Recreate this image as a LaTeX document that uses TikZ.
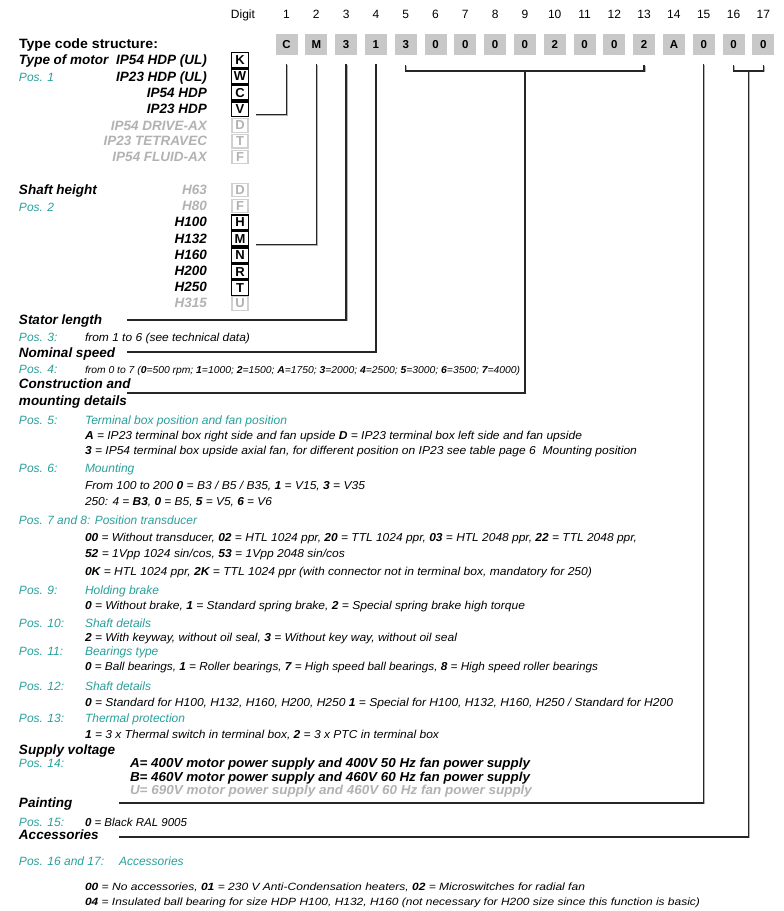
\documentclass[tikz,border=0pt]{standalone}
\usepackage{fontspec}
\setmainfont{Liberation Sans}
\usepackage{graphicx}
\usetikzlibrary{calc}
\definecolor{posteal}{RGB}{42,160,155}
\definecolor{codegray}{RGB}{200,200,200}
\definecolor{txtgray}{RGB}{178,178,178}
\definecolor{boxgray}{RGB}{208,208,208}
\newlength\fitlen
\newcommand\fitw[2]{\settowidth\fitlen{#2}\scalebox{\fpeval{#1pt/\fitlen}}[1]{#2}}
\begin{document}
\begin{tikzpicture}[x=1pt,y=-1pt,
  every node/.style={inner sep=0pt,outer sep=0pt},
  hd/.style={anchor=base west,font=\fontsize{13.5}{15}\selectfont\bfseries\itshape},
  mot/.style={anchor=base east,font=\fontsize{13.5}{15}\selectfont\bfseries\itshape},
  motg/.style={mot,text=txtgray},
  poslbl/.style={anchor=base west,text=posteal,font=\fontsize{12}{14}\selectfont\itshape},
  desc/.style={anchor=base west,font=\fontsize{11.5}{13}\selectfont\itshape},
  descs/.style={anchor=base west,font=\fontsize{10.5}{12}\selectfont\itshape},
  supp/.style={anchor=base west,font=\fontsize{13}{15}\selectfont\bfseries\itshape},
  dig/.style={anchor=base,font=\fontsize{12}{14}\selectfont},
  code/.style={fill=codegray,minimum width=22pt,minimum height=21pt,font=\fontsize{11.5}{13}\selectfont\bfseries},
  lb/.style={draw=black,line width=1.6pt,minimum width=17pt,minimum height=14.7pt,font=\fontsize{13}{14}\selectfont\bfseries},
  lbg/.style={draw=boxgray,line width=1.4pt,text=txtgray,minimum width=16pt,minimum height=13.5pt,font=\fontsize{13}{14}\selectfont\bfseries},
  conn/.style={line width=1.3pt,draw=black!85,preaction={draw=black!30,line width=1.3pt,transform canvas={xshift=0.8pt,yshift=-0.8pt}}}
]
\useasboundingbox[fill=white] (0,0) rectangle (784,911);

% header
\node[dig] (digit) at (243,18.3) {Digit};
\foreach \i/\v in {1/C,2/M,3/3,4/1,5/3,6/0,7/0,8/0,9/0,10/2,11/0,12/0,13/2,14/A,15/0,16/0,17/0}{
  \node[code] (c\i) at ({286.5+(\i-1)*29.8},44.5) {\v};
  \node[dig] (d\i) at ({286.5+(\i-1)*29.8},18.3) {\i};
}

% type of motor
\node[anchor=base west,font=\fontsize{13.5}{15}\selectfont\bfseries] (tcs) at (19,48.7) {\fitw{139}{Type code structure:}};
\node[hd] (tom) at (19,64.7) {Type of motor};
\node[poslbl] (p1) at (19,81.3) {Pos. 1};
\node[mot] (m1) at (207,64.7) {IP54 HDP (UL)};
\node[mot] (m2) at (207,81.2) {IP23 HDP (UL)};
\node[mot] (m3) at (207,97.7) {IP54 HDP};
\node[mot] (m4) at (207,113.7) {IP23 HDP};
\node[motg] (m5) at (207,130.2) {IP54 DRIVE-AX};
\node[motg] (m6) at (207,145.7) {IP23 TETRAVEC};
\node[motg] (m7) at (207,161.7) {IP54 FLUID-AX};
\node[lb] (kK) at (240,60) {K};
\node[lb] (kW) at (240,76.4) {W};
\node[lb] (kC) at (240,92.8) {C};
\node[lb] (kV) at (240,109.2) {V};
\node[lbg] (kD) at (240,125.5) {D};
\node[lbg] (kT) at (240,141.2) {T};
\node[lbg] (kF) at (240,157) {F};

% shaft height
\node[hd] (sh) at (19,194.7) {Shaft height};
\node[poslbl] (p2) at (19,211.3) {Pos. 2};
\node[motg] (h1) at (207,194.7) {H63};
\node[motg] (h2) at (207,210.7) {H80};
\node[mot] (h3) at (207,226.7) {H100};
\node[mot] (h4) at (207,243.2) {H132};
\node[mot] (h5) at (207,259.5) {H160};
\node[mot] (h6) at (207,275.7) {H200};
\node[mot] (h7) at (207,291.9) {H250};
\node[motg] (h8) at (207,307.7) {H315};
\node[lbg] (sD) at (240,190) {D};
\node[lbg] (sF) at (240,206) {F};
\node[lb] (sH) at (240,222.4) {H};
\node[lb] (sM) at (240,238.8) {M};
\node[lb] (sN) at (240,255.2) {N};
\node[lb] (sR) at (240,271.6) {R};
\node[lb] (sT) at (240,288) {T};
\node[lbg] (sU) at (240,303.5) {U};

% stator, speed
\node[hd] (stl) at (19,324.7) {Stator length};
\node[poslbl] (p3) at (19,341.3) {Pos. 3:};
\node[desc] (t3) at (85,341) {\fitw{165}{from 1 to 6 (see technical data)}};
\node[hd] (nsp) at (19,357.7) {Nominal speed};
\node[poslbl] (p4) at (19,373.3) {Pos. 4:};
\node[desc,font=\fontsize{10}{12}\selectfont\itshape] (t4) at (85,373) {\fitw{435}{from 0 to 7 (\textbf{0}=500 rpm; \textbf{1}=1000; \textbf{2}=1500; \textbf{A}=1750; \textbf{3}=2000; \textbf{4}=2500; \textbf{5}=3000; \textbf{6}=3500; \textbf{7}=4000)}};
\node[hd] (cons) at (19,388.7) {Construction and};
\node[hd] (mnt) at (19,405.7) {mounting details};

% pos 5
\node[poslbl] (p5) at (19,424.3) {Pos. 5:};
\node[poslbl] (p5t) at (85,424.3) {\fitw{202}{Terminal box position and fan position}};
\node[desc,font=\fontsize{11.5}{13}\selectfont\itshape] (t5a) at (85,439) {\fitw{497}{\textbf{A} = IP23 terminal box right side and fan upside \textbf{D} = IP23 terminal box left side and fan upside}};
\node[desc,font=\fontsize{11.5}{13}\selectfont\itshape] (t5b) at (85,454) {\fitw{552}{\textbf{3} = IP54 terminal box upside axial fan, for different position on IP23 see table page 6\ \ Mounting position}};

% pos 6
\node[poslbl] (p6) at (19,472.3) {Pos. 6:};
\node[poslbl] (p6t) at (85,472.3) {Mounting};
\node[desc] (t6a) at (85,489) {\fitw{280}{From 100 to 200 \textbf{0} = B3 / B5 / B35, \textbf{1} = V15, \textbf{3} = V35}};
\node[desc] (t6b) at (85,505) {\fitw{187}{250: 4 = \textbf{B3}, \textbf{0} = B5, \textbf{5} = V5, \textbf{6} = V6}};

% pos 7-8
\node[poslbl] (p7) at (19,524.3) {\fitw{178}{Pos. 7 and 8: Position transducer}};
\node[desc] (t7a) at (85,541) {\fitw{552}{\textbf{00} = Without transducer, \textbf{02} = HTL 1024 ppr, \textbf{20} = TTL 1024 ppr, \textbf{03} = HTL 2048 ppr, \textbf{22} = TTL 2048 ppr,}};
\node[desc] (t7b) at (85,557) {\fitw{260}{\textbf{52} = 1Vpp 1024 sin/cos, \textbf{53} = 1Vpp 2048 sin/cos}};
\node[desc] (t7c) at (85,575) {\fitw{507}{\textbf{0K} = HTL 1024 ppr, \textbf{2K} = TTL 1024 ppr (with connector not in terminal box, mandatory for 250)}};

% pos 9-13
\node[poslbl] (p9) at (19,594.3) {Pos. 9:};
\node[poslbl] (p9t) at (85,594.3) {Holding brake};
\node[desc] (t9) at (85,609) {\fitw{440}{\textbf{0} = Without brake, \textbf{1} = Standard spring brake, \textbf{2} = Special spring brake high torque}};
\node[poslbl] (p10) at (19,627.3) {Pos. 10:};
\node[poslbl] (p10t) at (85,627.3) {Shaft details};
\node[desc] (t10) at (85,641) {\fitw{372}{\textbf{2} = With keyway, without oil seal, \textbf{3} = Without key way, without oil seal}};
\node[poslbl] (p11) at (19,655.3) {Pos. 11:};
\node[poslbl] (p11t) at (85,655.3) {Bearings type};
\node[desc] (t11) at (85,670) {\fitw{513}{\textbf{0} = Ball bearings, \textbf{1} = Roller bearings, \textbf{7} = High speed ball bearings, \textbf{8} = High speed roller bearings}};
\node[poslbl] (p12) at (19,690.3) {Pos. 12:};
\node[poslbl] (p12t) at (85,690.3) {Shaft details};
\node[desc] (t12) at (85,706) {\fitw{588}{\textbf{0} = Standard for H100, H132, H160, H200, H250 \textbf{1} = Special for H100, H132, H160, H250 / Standard for H200}};
\node[poslbl] (p13) at (19,722.3) {Pos. 13:};
\node[poslbl] (p13t) at (85,722.3) {Thermal protection};
\node[desc] (t13) at (85,738) {\fitw{354}{\textbf{1} = 3 x Thermal switch in terminal box, \textbf{2} = 3 x PTC in terminal box}};

% supply voltage
\node[hd] (sv) at (19,754.7) {Supply voltage};
\node[poslbl] (p14) at (19,767.3) {Pos. 14:};
\node[supp] (sa) at (130,767.7) {\fitw{400}{A= 400V motor power supply and 400V 50 Hz fan power supply}};
\node[supp] (sb) at (130,781.7) {\fitw{400}{B= 460V motor power supply and 460V 60 Hz fan power supply}};
\node[supp,text=txtgray] (su) at (130,794.7) {\fitw{402}{U= 690V motor power supply and 460V 60 Hz fan power supply}};

% painting, accessories
\node[hd] (pnt) at (19,807.7) {Painting};
\node[poslbl] (p15) at (19,826.3) {Pos. 15:};
\node[desc] (t15) at (85,826) {\textbf{0} = Black RAL 9005};
\node[hd] (acc) at (19,839.7) {Accessories};
\node[poslbl] (p16) at (19,865.3) {Pos. 16 and 17:};
\node[poslbl] (p16t) at (119,865.3) {Accessories};
\node[descs] (t16a) at (85,890.8) {\fitw{500}{\textbf{00} = No accessories, \textbf{01} = 230 V Anti-Condensation heaters, \textbf{02} = Microswitches for radial fan}};
\node[descs] (t16b) at (85,905.8) {\fitw{615}{\textbf{04} = Insulated ball bearing for size HDP H100, H132, H160 (not necessary for H200 size since this function is basic)}};

% connector end points
\coordinate (e3) at (127,320);
\coordinate (e4) at (127,352);
\coordinate (e5) at (127,393);
\coordinate (e15) at (119,803);
\coordinate (e16) at (119,837);
\coordinate (m1617) at ($(c16.south)!0.5!(c17.south)$);

% connectors
\draw[conn] ([yshift=-9pt]c1.south) |- ([xshift=7pt,yshift=2pt]kV.south east);
\draw[conn] ([yshift=-9pt]c2.south) |- ([xshift=7pt,yshift=2pt]sM.south east);
\draw[conn] ([yshift=-9pt]c3.south) |- (e3);
\draw[conn] ([yshift=-9pt]c4.south) |- (e4);
\draw[conn] ([yshift=-10pt]c5.south) -- ([yshift=-16pt]c5.south) -- ([yshift=-16pt]c13.south) -- ([yshift=-10pt]c13.south);
\draw[conn] ([yshift=-16pt]c9.south) |- (e5);
\draw[conn] ([yshift=-9pt]c15.south) |- (e15);
\draw[conn] ([yshift=-10pt]c16.south) -- ([yshift=-16pt]c16.south) -- ([yshift=-16pt]c17.south) -- ([yshift=-10pt]c17.south);
\draw[conn] ([yshift=-16pt]m1617) |- (e16);
\end{tikzpicture}
\end{document}
